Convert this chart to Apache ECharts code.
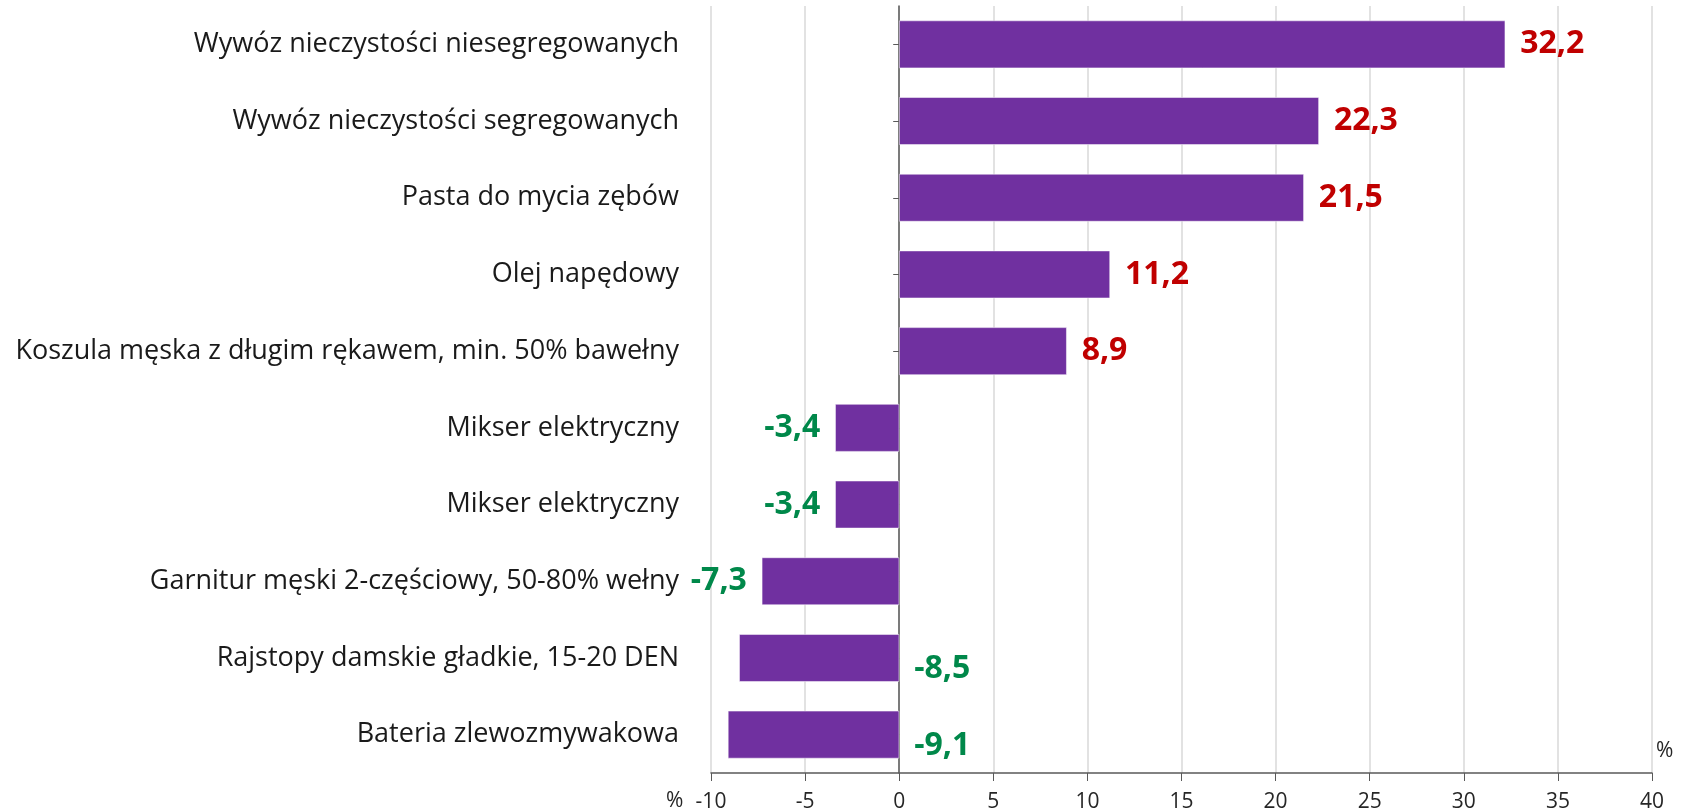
<!DOCTYPE html>
<html>
<head>
<meta charset="utf-8">
<script src="https://cdn.jsdelivr.net/npm/echarts@6/dist/echarts.min.js"></script>
<style>
  html, body { margin: 0; padding: 0; background: #fff; }
  #chart { width: 1684px; height: 810px; }
</style>
</head>
<body>
<div id="chart"></div>
<script>
// kategorie od góry do dołu
const categories = [
  'Wywóz nieczystości niesegregowanych',
  'Wywóz nieczystości segregowanych',
  'Pasta do mycia zębów',
  'Olej napędowy',
  'Koszula męska z długim rękawem, min. 50% bawełny',
  'Mikser elektryczny',
  'Mikser elektryczny',
  'Garnitur męski 2-częściowy, 50-80% wełny',
  'Rajstopy damskie gładkie, 15-20 DEN',
  'Bateria zlewozmywakowa'
]
const values = [32.2, 22.3, 21.5, 11.2, 8.9, -3.4, -3.4, -7.3, -8.5, -9.1]
const xTicks = { min: -10, max: 40, interval: 5 }

const FONT = '"Open Sans", "Noto Sans", sans-serif'
const RED = '#C00000'
const GREEN = '#00884A'

const mChart = echarts.init(document.getElementById('chart'))

const barData = values.map((v, i) => {
  const item = { value: v }
  if (v < 0) {
    // małe ujemne - etykieta z lewej, większe - za osią zero
    const farLeft = v <= -8
    item.label = {
      position: farLeft ? 'right' : 'left',
      offset: farLeft ? [0, 11] : [0, 0],
      color: GREEN
    }
  }
  return item
})

const options = {
  animation: false,
  grid: { left: 711, right: 32, top: 6, bottom: 37, containLabel: false, outerBoundsMode: 'none' },
  xAxis: {
    type: 'value',
    min: xTicks.min,
    max: xTicks.max,
    interval: xTicks.interval,
    axisLine: { show: true, onZero: false, lineStyle: { color: '#595959', width: 1.5 } },
    axisTick: { show: true, length: 8, lineStyle: { color: '#595959' } },
    axisLabel: { color: '#262626', fontSize: 21, fontFamily: FONT, margin: 19 },
    splitLine: { show: true, lineStyle: { color: '#d9d9d9', width: 1.5 } }
  },
  yAxis: {
    type: 'category',
    inverse: true,
    data: categories,
    axisLine: { show: true, onZero: true, lineStyle: { color: '#595959', width: 1.5 } },
    axisTick: { show: true, alignWithLabel: true, length: 6, lineStyle: { color: '#595959' } },
    // etykiety zostają przy lewej krawędzi siatki
    axisLabel: { color: '#1a1a1a', fontSize: 27, fontFamily: FONT, margin: 32 }
  },
  series: [{
    type: 'bar',
    data: barData,
    barCategoryGap: '38%',
    itemStyle: { color: '#7030A0', borderColor: '#ffffff', borderWidth: 0.5 },
    label: {
      show: true,
      position: 'right',
      distance: 15,
      color: RED,
      fontSize: 32,
      fontWeight: 'bold',
      fontFamily: FONT,
      formatter: p => String(p.value).replace('.', ',')
    }
  }],
  graphic: [
    { type: 'text', left: 666, top: 791, style: { text: '%', fontSize: 21, fill: '#262626', fontFamily: FONT } },
    { type: 'text', left: 1656, top: 741, style: { text: '%', fontSize: 21, fill: '#262626', fontFamily: FONT } }
  ]
}

mChart.setOption(options)
</script>
</body>
</html>
